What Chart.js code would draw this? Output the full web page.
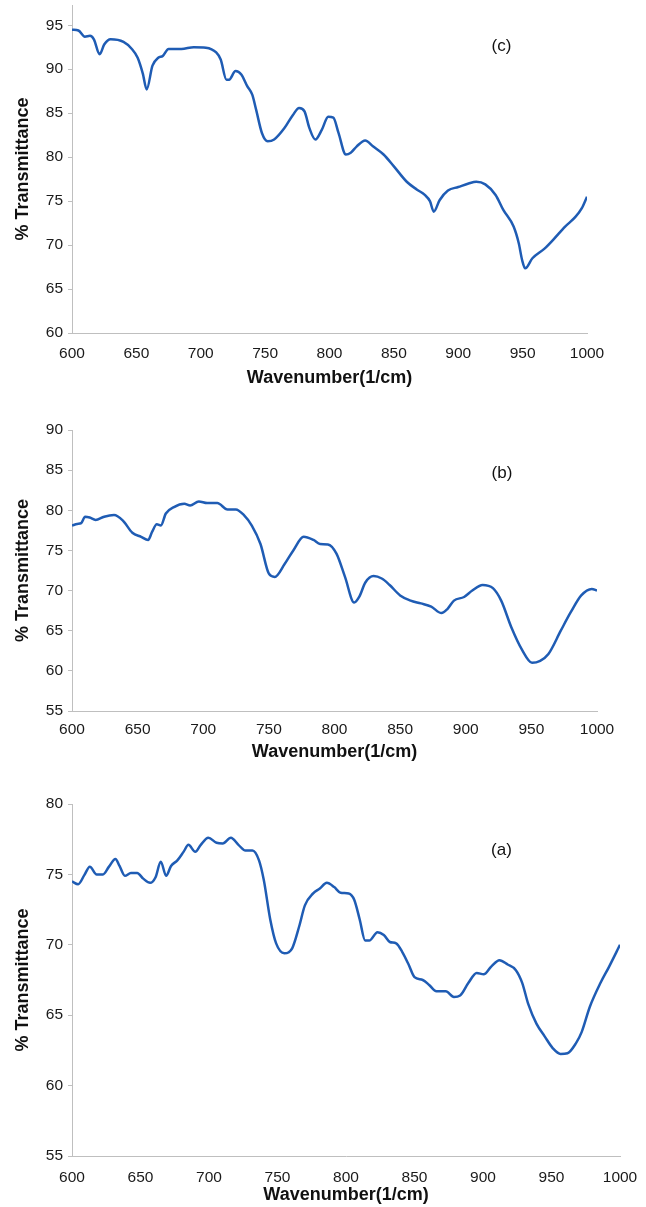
<!DOCTYPE html>
<html>
<head>
<meta charset="utf-8">
<script src="https://cdn.jsdelivr.net/npm/chart.js@4.4.1/dist/chart.umd.min.js"></script>
<style>
    html, body { margin: 0; padding: 0; background: #fff; }
    body { width: 646px; height: 1207px; position: relative; overflow: hidden; }
    canvas { position: absolute; left: 0; }
</style>
</head>
<body>
<canvas id="chartC" width="646" height="395" style="top:0px"></canvas>
<canvas id="chartB" width="646" height="380" style="top:395px"></canvas>
<canvas id="chartA" width="646" height="432" style="top:775px"></canvas>
<script>
// Panel (c)
const wavenumberC = [600, 605, 610, 614, 617, 621.5, 625, 630, 640, 646.5, 651, 655, 658, 662.5, 667, 670.5, 675, 685, 694.6, 704,
    712, 715.5, 720, 722, 727, 731.5, 736, 740, 743, 747.5, 752, 757, 765, 771.6, 776.4, 780.6, 784.4, 789, 794, 799,
    803, 807, 812.7, 816.5, 821, 827.7, 834, 842, 850, 860, 868, 874, 878, 881, 885.5, 892, 900, 908, 914, 921,
    929, 935, 943, 947, 949.6, 952, 957.6, 967, 973.7, 983, 991, 996, 1000];
const transmittanceC = [94.5, 94.4, 93.7, 93.8, 93.4, 91.7, 92.8, 93.4, 93.1, 92.3, 91.3, 89.5, 87.7, 90.4, 91.3, 91.5, 92.3, 92.3, 92.5, 92.45,
    91.9, 91.1, 88.8, 88.8, 89.8, 89.4, 88.1, 87.1, 85.4, 82.75, 81.8, 82.0, 83.3, 84.8, 85.6, 85.2, 83.3, 82.0, 83.1, 84.6,
    84.5, 82.75, 80.3, 80.5, 81.2, 81.9, 81.2, 80.3, 78.95, 77.2, 76.3, 75.7, 75.0, 73.8, 75.1, 76.2, 76.6, 77.0, 77.2, 76.9,
    75.7, 74.0, 72.1, 70.2, 68.3, 67.35, 68.5, 69.6, 70.6, 72.1, 73.2, 74.2, 75.5];

// Panel (b)
const wavenumberB = [600, 604, 607, 610, 613.5, 618, 624.5, 632, 638.6, 646, 652.7, 658, 661, 664.6, 667.7, 671.5, 677.7, 685.6, 690, 696.6,
    703, 710.7, 718.5, 724.8, 731, 737, 743.6, 750, 754.5, 762, 768.6, 776.5, 784, 789, 795, 801.5, 808, 815, 818.8, 823.5,
    829.8, 836, 842, 850, 858, 865.8, 873.7, 881.5, 886, 891, 898.7, 905, 912.8, 920.7, 927, 934.8, 942.6, 950.5, 956.7, 963,
    972.4, 980, 988, 996, 1000];
const transmittanceB = [78.1, 78.3, 78.4, 79.2, 79.1, 78.8, 79.2, 79.4, 78.75, 77.2, 76.7, 76.3, 77.3, 78.25, 78.1, 79.6, 80.4, 80.8, 80.6, 81.1,
    80.9, 80.9, 80.1, 80.1, 79.4, 78.1, 75.8, 72.1, 71.7, 73.3, 75.0, 76.7, 76.3, 75.8, 75.75, 74.6, 71.7, 68.5, 69.2, 71.0,
    71.8, 71.5, 70.7, 69.4, 68.75, 68.4, 68.0, 67.2, 67.7, 68.75, 69.2, 70.0, 70.7, 70.3, 68.75, 65.4, 62.7, 61.0, 61.25, 62.1,
    65.0, 67.3, 69.4, 70.2, 70.0];

// Panel (a)
const wavenumberA = [600, 604.5, 609, 613, 618, 622.6, 627, 631.7, 634.7, 638.6, 643, 647.6, 652, 657, 661, 664.8, 668.7, 672.3, 676.9, 681.4,
    685, 690, 694, 699.5, 705.5, 710, 716, 721.5, 726.6, 731.7, 736.5, 740, 744.7, 749, 755, 760.7, 765.8, 770, 776, 780.9,
    786, 791.4, 796, 802, 806, 810, 814, 817, 823, 827.6, 832, 836.6, 841, 845.7, 850, 856, 860.7, 866, 872.8, 878.8,
    883.3, 889.4, 895.4, 900.5, 906, 912, 918, 924, 928.6, 933, 939, 945, 951, 956.6, 961.7, 967.8, 972, 978, 985.8, 991.8,
    1000];
const transmittanceA = [74.5, 74.3, 74.95, 75.55, 75.0, 75.0, 75.55, 76.1, 75.6, 74.9, 75.1, 75.1, 74.7, 74.4, 74.8, 75.9, 74.9, 75.6, 76.0, 76.6,
    77.1, 76.6, 77.1, 77.6, 77.25, 77.2, 77.6, 77.1, 76.7, 76.7, 76.0, 74.6, 71.8, 70.1, 69.4, 69.75, 71.3, 72.8, 73.65, 74.0,
    74.4, 74.1, 73.7, 73.65, 73.2, 71.8, 70.3, 70.3, 70.9, 70.7, 70.2, 70.1, 69.5, 68.6, 67.7, 67.5, 67.15, 66.7, 66.7, 66.3,
    66.4, 67.3, 68.0, 67.9, 68.45, 68.9, 68.6, 68.2, 67.3, 65.8, 64.4, 63.5, 62.65, 62.25, 62.3, 63.0, 63.8, 65.6, 67.3, 68.4,
    70.0];

const xTickLabels = [600, 650, 700, 750, 800, 850, 900, 950, 1000];

const FONT = '"Liberation Sans", Arial, Helvetica, sans-serif';
const LINE_COLOR = '#1F5CB4';
const AXIS_COLOR = '#BFBFBF';

// draws the "(a)" / "(b)" / "(c)" tag inside the plot
const panelTag = {
    id: 'panelTag',
    afterDatasetsDraw(chart, args, opts) {
        if (!opts.text) return;
        const ctx = chart.ctx;
        ctx.save();
        ctx.font = '17px ' + FONT;
        ctx.fillStyle = '#111';
        ctx.textAlign = 'center';
        ctx.textBaseline = 'middle';
        ctx.fillText(opts.text, chart.scales.x.getPixelForValue(opts.x), chart.scales.y.getPixelForValue(opts.y));
        ctx.restore();
    }
};

function makePanel(id, wn, tr, cfg) {
    const points = wn.map((w, i) => ({ x: w, y: tr[i] }));
    new Chart(document.getElementById(id), {
        type: 'line',
        data: {
            datasets: [{
                data: points,
                borderColor: LINE_COLOR,
                borderWidth: 2.5,
                pointRadius: 0,
                fill: false,
                cubicInterpolationMode: 'monotone'
            }]
        },
        options: {
            responsive: false,
            animation: false,
            devicePixelRatio: 1,
            layout: { padding: cfg.padding },
            plugins: {
                legend: { display: false },
                tooltip: { enabled: false },
                panelTag: cfg.tag
            },
            scales: {
                x: {
                    type: 'linear',
                    min: 600,
                    max: 1000,
                    afterBuildTicks: (scale) => {
                        scale.ticks = xTickLabels.map(v => ({ value: v }));
                    },
                    ticks: {
                        color: '#1a1a1a',
                        font: { family: FONT, size: 15.5 },
                        padding: cfg.xTickPad,
                        maxRotation: 0,
                        callback: (v) => String(v)
                    },
                    grid: { display: false },
                    border: { display: true, color: AXIS_COLOR, width: 1 },
                    title: {
                        display: true,
                        text: 'Wavenumber(1/cm)',
                        color: '#111',
                        font: { family: FONT, size: 18, weight: 'bold' },
                        padding: { top: 0, bottom: cfg.xTitlePad }
                    },
                    afterFit: (scale) => {
                        scale.height = cfg.xHeight;
                        scale.paddingLeft = 0;
                        scale.paddingRight = 0;
                    }
                },
                y: {
                    min: cfg.yMin,
                    max: cfg.yMax,
                    ticks: { stepSize: 5, color: '#1a1a1a', font: { family: FONT, size: 15.5 }, padding: 5 },
                    afterBuildTicks: (scale) => {
                        scale.ticks = scale.ticks.filter(t => Math.abs(t.value % 5) < 1e-6);
                    },
                    grid: { display: true, drawOnChartArea: false, drawTicks: true, tickLength: 4, color: AXIS_COLOR },
                    border: { display: true, color: AXIS_COLOR, width: 1 },
                    title: {
                        display: true,
                        text: '% Transmittance',
                        color: '#111',
                        font: { family: FONT, size: 18, weight: 'bold' },
                        padding: { top: 12, bottom: 0 }
                    },
                    afterFit: (scale) => {
                        scale.width = 72;
                        scale.paddingTop = 0;
                        scale.paddingBottom = 0;
                    }
                }
            }
        },
        plugins: [panelTag]
    });
}

makePanel('chartC', wavenumberC, transmittanceC, {
    yMin: 60, yMax: 97.3,
    padding: { top: 5, right: 59, bottom: 0, left: 0 },
    xHeight: 62, xTickPad: 3, xTitlePad: 6,
    tag: { text: '(c)', x: 933.6, y: 92.65 }
});

makePanel('chartB', wavenumberB, transmittanceB, {
    yMin: 55, yMax: 90,
    padding: { top: 35, right: 49, bottom: 0, left: 0 },
    xHeight: 64, xTickPad: 1, xTitlePad: 12,
    tag: { text: '(b)', x: 927.6, y: 84.6 }
});

makePanel('chartA', wavenumberA, transmittanceA, {
    yMin: 55, yMax: 80,
    padding: { top: 29, right: 26, bottom: 0, left: 0 },
    xHeight: 51, xTickPad: 4, xTitlePad: 1,
    tag: { text: '(a)', x: 913.5, y: 76.7 }
});
</script>
</body>
</html>
